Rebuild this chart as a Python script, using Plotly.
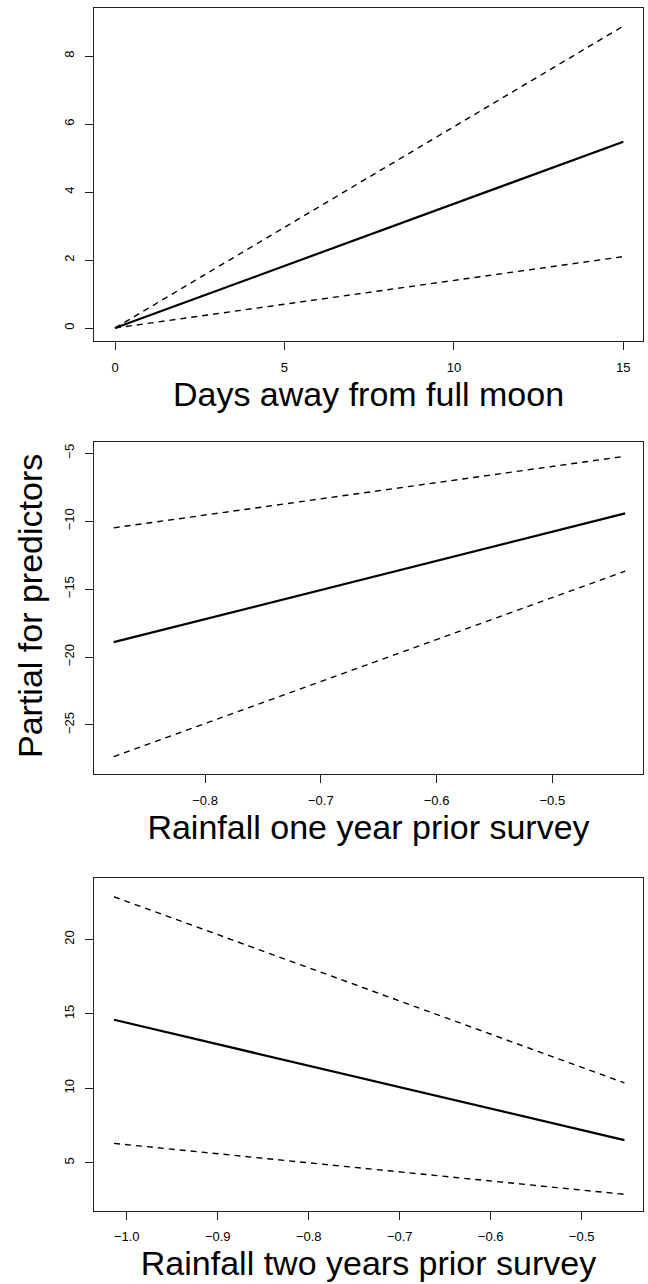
import plotly.graph_objects as go

# Panel 1: Days away from full moon
moon_x = [0, 15]
moon_fit = [0.0, 5.48]
moon_upper = [0.0, 8.88]
moon_lower = [0.0, 2.10]

# Panel 2: Rainfall one year prior survey
rain1_x = [-0.879, -0.437]
rain1_fit = [-18.9, -9.43]
rain1_upper = [-10.49, -5.22]
rain1_lower = [-27.33, -13.68]

# Panel 3: Rainfall two years prior survey
rain2_x = [-1.014, -0.453]
rain2_fit = [14.6, 6.52]
rain2_upper = [22.86, 10.36]
rain2_lower = [6.30, 2.88]

x_titles = ["Days away from full moon", "Rainfall one year prior survey", "Rainfall two years prior survey"]
y_title = "Partial for predictors"

x_ticks = [[0, 5, 10, 15], [-0.8, -0.7, -0.6, -0.5], [-1.0, -0.9, -0.8, -0.7, -0.6, -0.5]]
x_ticktext = [["0", "5", "10", "15"], ["\u22120.8", "\u22120.7", "\u22120.6", "\u22120.5"],
              ["\u22121.0", "\u22120.9", "\u22120.8", "\u22120.7", "\u22120.6", "\u22120.5"]]
y_ticks = [[0, 2, 4, 6, 8], [-25, -20, -15, -10, -5], [5, 10, 15, 20]]
y_ticktext = [["0", "2", "4", "6", "8"], ["\u221225", "\u221220", "\u221215", "\u221210", "\u22125"],
              ["5", "10", "15", "20"]]

W, H = 648, 1284
FONT = "Liberation Sans, Arial, Helvetica, sans-serif"

# pixel layout of the three plot boxes
box_left, box_right = 94, 643
box_tops = [8, 441.7, 878.3]
box_bots = [341, 774.3, 1210.7]
x_ranges = [[-0.62, 15.58], [-0.896, -0.4216], [-1.036, -0.4326]]
y_ranges = [[-0.382, 9.412], [-28.63, -4.15], [1.78, 24.1]]

panels = [
    (moon_x, moon_fit, moon_upper, moon_lower),
    (rain1_x, rain1_fit, rain1_upper, rain1_lower),
    (rain2_x, rain2_fit, rain2_upper, rain2_lower),
]

fig = go.Figure()
layout = dict(
    width=W, height=H, margin=dict(l=0, r=0, t=0, b=0),
    paper_bgcolor="white", plot_bgcolor="white", showlegend=False,
    font=dict(family=FONT, color="black"),
)

for i, (xs, fit, up, lo) in enumerate(panels):
    n = "" if i == 0 else str(i + 1)
    xa, ya = "x" + n, "y" + n
    fig.add_trace(go.Scatter(x=xs, y=up, mode="lines", xaxis=xa, yaxis=ya,
                             line=dict(color="black", width=1.4, dash="6px,5px")))
    fig.add_trace(go.Scatter(x=xs, y=lo, mode="lines", xaxis=xa, yaxis=ya,
                             line=dict(color="black", width=1.4, dash="6px,5px")))
    fig.add_trace(go.Scatter(x=xs, y=fit, mode="lines", xaxis=xa, yaxis=ya,
                             line=dict(color="black", width=2.2)))
    axis_common = dict(showgrid=False, zeroline=False, showline=True, mirror=True,
                       linecolor="#222", linewidth=1.3, ticks="outside", ticklen=8,
                       tickwidth=1, tickcolor="#222",
                       tickfont=dict(family=FONT, size=13, color="black"))
    layout["xaxis" + n] = dict(
        axis_common, domain=[box_left / W, box_right / W], anchor=ya,
        range=x_ranges[i], tickmode="array", tickvals=x_ticks[i], ticktext=x_ticktext[i],
        ticklabelstandoff=6,
        title=dict(text=x_titles[i], font=dict(family=FONT, size=34, color="black"), standoff=6),
    )
    layout["yaxis" + n] = dict(
        axis_common, domain=[1 - box_bots[i] / H, 1 - box_tops[i] / H], anchor=xa,
        range=y_ranges[i], tickmode="array", tickvals=y_ticks[i], ticktext=y_ticktext[i],
        tickangle=-90, ticklabelstandoff=6,
    )

fig.update_layout(**layout)

fig.add_annotation(
    text=y_title, xref="paper", yref="paper", x=30 / W, y=1 - 606 / H,
    xanchor="center", yanchor="middle", textangle=-90, showarrow=False,
    font=dict(family=FONT, size=34, color="black"),
)

fig.write_html("out.html")
